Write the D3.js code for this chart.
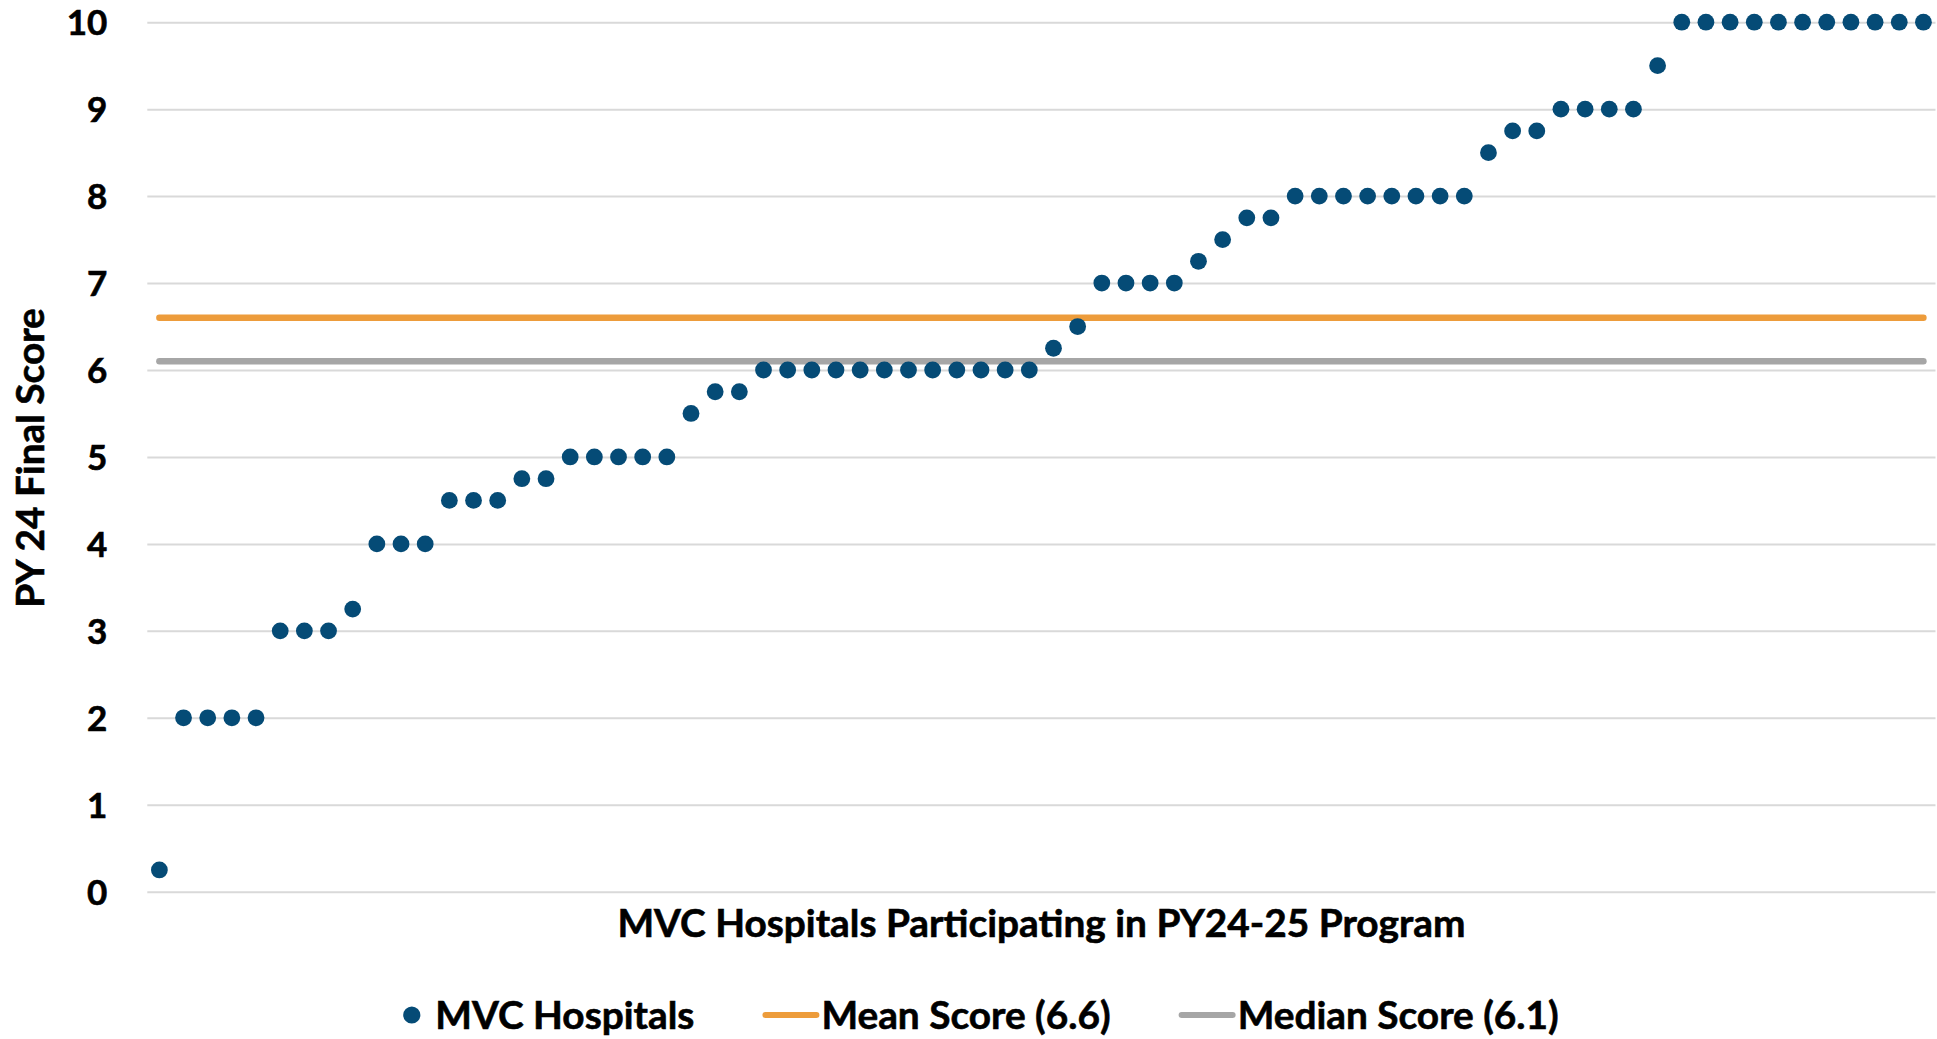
<!DOCTYPE html>
<html>
<head>
<meta charset="utf-8">
<script src="https://cdn.jsdelivr.net/npm/d3@7"></script>
<style>
  body { margin: 0; background: #fff; }
  text { font-family: Lato, "Open Sans", sans-serif; font-weight: bold; fill: #000; stroke: #000; stroke-width: 0.6px; }
</style>
</head>
<body>
<div id="chart"></div>
<script>
// scores, sorted low to high, one per hospital
var scores = [0.25, 2, 2, 2, 2, 3, 3, 3, 3.25, 4, 4, 4, 4.5, 4.5, 4.5, 4.75, 4.75,
  5, 5, 5, 5, 5, 5.5, 5.75, 5.75,
  6, 6, 6, 6, 6, 6, 6, 6, 6, 6, 6, 6, 6.25, 6.5, 7, 7, 7, 7, 7.25, 7.5, 7.75, 7.75,
  8, 8, 8, 8, 8, 8, 8, 8, 8.5, 8.75, 8.75, 9, 9, 9, 9, 9.5,
  10, 10, 10, 10, 10, 10, 10, 10, 10, 10, 10];
var hospitals = scores.map(function(d, i) { return i + 1; });
var meanScore = 6.6;
var medianScore = 6.1;
var yTicks = [0, 1, 2, 3, 4, 5, 6, 7, 8, 9, 10];
var legendItems = ["MVC Hospitals", "Mean Score (6.6)", "Median Score (6.1)"];

var W = 1937, H = 1039;
var margin = {top: 22.2, right: 1.5, bottom: 147.3, left: 147.3};
var width = W - margin.left - margin.right,
    height = H - margin.top - margin.bottom;

var navy = "#054b76", orange = "#ed9c3b", grey = "#a6a6a6";

var svg = d3.select("#chart").append("svg")
  .attr("width", W)
  .attr("height", H);

var g = svg.append("g")
  .attr("transform", "translate(" + margin.left + "," + margin.top + ")");

var x = d3.scaleBand().domain(hospitals).range([0, width]);
var y = d3.scaleLinear().domain([0, 10]).range([height, 0]);

// y axis with gridlines
var yAxis = g.append("g")
  .call(d3.axisLeft(y).tickValues(yTicks).tickSize(-width).tickPadding(40).tickFormat(d3.format("d")));
yAxis.select(".domain").remove();
yAxis.selectAll("line").attr("stroke", "#d9d9d9").attr("stroke-width", 2);
yAxis.selectAll("text")
  .style("font-size", "35px")
  .attr("dy", "0.36em");

// mean and median lines
var ends = [hospitals[0], hospitals[hospitals.length - 1]];
var cx = function(d) { return x(d) + x.bandwidth() / 2; };

g.append("path")
  .datum(ends)
  .attr("fill", "none")
  .attr("stroke", orange)
  .attr("stroke-width", 6.5)
  .attr("stroke-linecap", "round")
  .attr("d", d3.line().x(cx).y(function() { return y(meanScore); }));

g.append("path")
  .datum(ends)
  .attr("fill", "none")
  .attr("stroke", grey)
  .attr("stroke-width", 6.5)
  .attr("stroke-linecap", "round")
  .attr("d", d3.line().x(cx).y(function() { return y(medianScore); }));

// hospital dots
g.selectAll(".dot")
  .data(scores)
  .enter().append("circle")
  .attr("class", "dot")
  .attr("cx", function(d, i) { return cx(hospitals[i]); })
  .attr("cy", function(d) { return y(d); })
  .attr("r", 8.4)
  .attr("fill", navy);

// axis titles
g.append("text")
  .attr("x", width / 2)
  .attr("y", height + 45)
  .attr("text-anchor", "middle")
  .style("font-size", "38.8px")
  .text("MVC Hospitals Participating in PY24-25 Program");

svg.append("text")
  .attr("transform", "translate(44," + 458 + ") rotate(-90)")
  .attr("text-anchor", "middle")
  .style("font-size", "38.8px")
  .text("PY 24 Final Score");

// legend
var legend = svg.append("g").attr("transform", "translate(0,1015)");
var symW = [17, 57, 57], symGap = [15, 2, 2], itemGap = 68;
var items = legend.selectAll(".item")
  .data(legendItems)
  .enter().append("g")
  .attr("class", "item");

items.append("text")
  .attr("dy", "0.36em")
  .style("font-size", "38.8px")
  .text(function(d) { return d; });

var widths = [];
items.select("text").each(function() { widths.push(this.getComputedTextLength()); });
var total = 0;
widths.forEach(function(w, i) { total += symW[i] + symGap[i] + w + (i < 2 ? itemGap : 0); });
var pos = 981 - total / 2;

items.each(function(d, i) {
  var it = d3.select(this);
  it.attr("transform", "translate(" + pos + ",0)");
  if (i === 0) {
    it.append("circle").attr("cx", 8.5).attr("cy", 0).attr("r", 8.6).attr("fill", navy);
  } else {
    it.append("line").attr("x1", 3).attr("x2", symW[i] - 3)
      .attr("stroke", i === 1 ? orange : grey)
      .attr("stroke-width", 6)
      .attr("stroke-linecap", "round");
  }
  it.select("text").attr("x", symW[i] + symGap[i]);
  pos += symW[i] + symGap[i] + widths[i] + itemGap;
});
</script>
</body>
</html>
